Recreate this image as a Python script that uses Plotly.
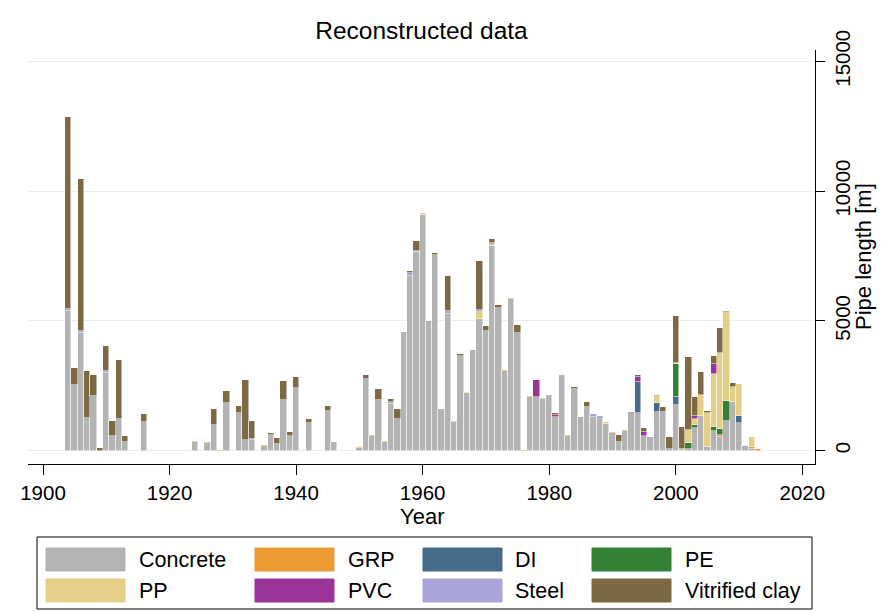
import plotly.graph_objects as go

# Installation year of each reconstructed pipe cohort
years = [1904, 1905, 1906, 1907, 1908, 1909, 1910, 1911, 1912, 1913,
         1916, 1924, 1926, 1927, 1928, 1929, 1931, 1932, 1933, 1935,
         1936, 1937, 1938, 1939, 1940, 1942, 1945, 1946, 1950, 1951,
         1952, 1953, 1954, 1955, 1956, 1957, 1958, 1959, 1960, 1961,
         1962, 1963, 1964, 1965, 1966, 1967, 1968, 1969, 1970, 1971,
         1972, 1973, 1974, 1975, 1976, 1977, 1978, 1979, 1980, 1981,
         1982, 1983, 1984, 1985, 1986, 1987, 1988, 1989, 1990, 1991,
         1992, 1993, 1994, 1995, 1996, 1997, 1998, 1999, 2000, 2001,
         2002, 2003, 2004, 2005, 2006, 2007, 2008, 2009, 2010, 2011,
         2012, 2013]

# Pipe length [m] per material and year
concrete = [5370, 2530, 4520, 1270, 2120, 0, 3000, 580, 1220, 350,
            1120, 350, 310, 990, 0, 1825, 1440, 400, 410, 180,
            615, 270, 1965, 580, 2415, 1080, 1530, 320, 95, 2750,
            580, 1965, 325, 1810, 1210, 4520, 6740, 7665, 9080, 4985,
            7540, 1570, 5255, 1120, 3660, 2225, 3840, 5075, 4560, 7895,
            5500, 3070, 5830, 4520, 0, 2080, 2060, 1990, 2120, 1310,
            2880, 580, 2365, 1290, 1695, 1290, 1310, 1015, 680, 325,
            770, 1440, 1440, 580, 490, 1500, 1500, 75, 1760, 0,
            75, 885, 1325, 155, 755, 540, 1155, 1875, 1055, 195,
            65, 0]
grp = [0, 0, 0, 0, 0, 0, 0, 0, 0, 0,
       0, 25, 30, 0, 40, 0, 0, 0, 0, 40,
       0, 0, 0, 0, 0, 0, 0, 30, 40, 0,
       40, 0, 50, 0, 0, 0, 0, 0, 0, 0,
       0, 0, 0, 0, 0, 0, 0, 0, 0, 0,
       0, 40, 40, 0, 40, 40, 25, 40, 0, 0,
       0, 25, 0, 0, 0, 0, 0, 0, 50, 0,
       25, 0, 0, 0, 0, 0, 0, 0, 0, 0,
       0, 0, 0, 0, 0, 50, 0, 0, 0, 0,
       75, 65]
di = [0, 0, 0, 0, 0, 0, 0, 0, 0, 0,
      0, 0, 0, 0, 0, 0, 0, 0, 0, 0,
      0, 0, 0, 0, 0, 0, 0, 0, 0, 0,
      0, 0, 0, 0, 0, 0, 0, 0, 0, 0,
      0, 0, 0, 0, 0, 0, 0, 0, 0, 0,
      0, 0, 0, 0, 0, 0, 0, 0, 0, 0,
      0, 0, 0, 0, 0, 0, 40, 0, 0, 0,
      0, 0, 1220, 0, 0, 345, 0, 0, 320, 0,
      0, 0, 0, 0, 0, 0, 0, 0, 280, 0,
      0, 0]
pe = [0, 0, 0, 0, 0, 0, 0, 0, 0, 0,
      0, 0, 0, 0, 0, 0, 0, 0, 0, 0,
      0, 0, 0, 0, 0, 0, 0, 0, 0, 0,
      0, 0, 0, 0, 0, 0, 0, 0, 0, 0,
      0, 0, 0, 0, 0, 0, 0, 0, 60, 0,
      0, 0, 0, 0, 0, 0, 0, 0, 0, 0,
      0, 0, 0, 0, 0, 0, 0, 0, 0, 0,
      0, 0, 0, 0, 0, 0, 0, 0, 1245, 0,
      210, 105, 0, 0, 170, 230, 770, 0, 0, 0,
      0, 0]
pp = [0, 0, 0, 0, 0, 0, 0, 0, 0, 0,
      0, 0, 0, 0, 0, 0, 0, 0, 0, 0,
      0, 0, 0, 0, 0, 0, 0, 0, 0, 0,
      0, 0, 0, 0, 0, 0, 0, 0, 65, 0,
      0, 0, 0, 0, 0, 40, 0, 255, 0, 50,
      0, 0, 0, 0, 0, 0, 0, 0, 0, 0,
      0, 0, 0, 0, 0, 0, 0, 80, 0, 0,
      0, 0, 0, 0, 0, 260, 0, 0, 65, 65,
      510, 245, 820, 1310, 2030, 2955, 3405, 565, 1225, 25,
      400, 0]
pvc = [0, 0, 0, 0, 0, 0, 0, 0, 0, 0,
       0, 0, 0, 0, 0, 0, 0, 0, 0, 0,
       0, 0, 0, 0, 0, 0, 0, 0, 0, 0,
       0, 0, 0, 0, 0, 0, 0, 0, 0, 0,
       0, 0, 0, 0, 0, 0, 0, 0, 0, 65,
       0, 0, 0, 0, 0, 0, 640, 0, 0, 65,
       0, 0, 0, 25, 0, 0, 0, 0, 0, 0,
       0, 40, 165, 140, 50, 0, 0, 0, 0, 0,
       0, 100, 0, 0, 385, 0, 0, 0, 0, 0,
       0, 0]
steel = [90, 0, 90, 0, 0, 0, 80, 0, 0, 0,
         0, 0, 0, 0, 0, 0, 0, 0, 30, 0,
         0, 0, 0, 0, 0, 0, 0, 0, 0, 0,
         0, 0, 0, 75, 0, 0, 100, 40, 0, 0,
         0, 0, 115, 35, 0, 0, 0, 100, 0, 0,
         0, 0, 0, 0, 0, 0, 0, 0, 0, 0,
         0, 0, 0, 0, 0, 115, 0, 0, 0, 0,
         0, 0, 0, 0, 0, 0, 0, 0, 0, 0,
         0, 0, 0, 0, 0, 0, 0, 0, 0, 0,
         0, 0]
vitrified_clay = [7380, 640, 5840, 1800, 785, 120, 950, 550, 2260, 220,
                  300, 0, 0, 615, 0, 490, 295, 2310, 700, 0,
                  80, 220, 720, 140, 410, 130, 180, 0, 0, 165,
                  0, 400, 0, 110, 385, 40, 80, 370, 0, 25,
                  75, 40, 1360, 0, 50, 0, 50, 1875, 195, 130,
                  100, 0, 0, 310, 0, 0, 0, 0, 25, 65,
                  25, 0, 80, 0, 180, 0, 0, 25, 0, 295,
                  0, 0, 105, 140, 0, 25, 180, 450, 1795, 835,
                  2825, 720, 885, 65, 310, 950, 60, 155, 0, 0,
                  0, 0]

materials = ["Concrete", "GRP", "DI", "PE", "PP", "PVC", "Steel", "Vitrified clay"]
series = [concrete, grp, di, pe, pp, pvc, steel, vitrified_clay]
colors = ["#b3b3b3", "#ec9a34", "#466b8b", "#338033",
          "#e3cf87", "#993499", "#a9a5db", "#7d6a45"]

x_ticks = [1900, 1920, 1940, 1960, 1980, 2000, 2020]
y_ticks = [0, 5000, 10000, 15000]
y_tick_labels = ["0", "5000", "10000", "15000"]

FONT = "Liberation Sans, Arial, sans-serif"
W, H = 889, 612
ML, MR, MT, MB = 28, 74, 50, 148

fig = go.Figure()
for name, vals, col in zip(materials, series, colors):
    fig.add_trace(go.Bar(
        x=years, y=vals, name=name, width=1.0,
        marker=dict(color=col, line=dict(color="rgba(255,255,255,0.7)", width=0.7)),
        showlegend=False,
    ))

# helpers: page pixels -> paper coordinates of the plotting area
pw = W - ML - MR
ph = H - MT - MB


def px_x(p):
    return (p - ML) / pw


def px_y(p):
    return (H - MB - p) / ph


shapes = [dict(type="rect", xref="paper", yref="paper",
               x0=px_x(37), x1=px_x(812), y0=px_y(609), y1=px_y(537),
               line=dict(color="black", width=1), fillcolor="white", layer="below")]
annotations = []
col_swatch = [46, 255, 423, 592]
col_text = [137, 346, 513, 683]
row_top = [548, 579]
for i, (name, col) in enumerate(zip(materials, colors)):
    r, c = divmod(i, 4)
    y0 = row_top[r]
    shapes.append(dict(type="rect", xref="paper", yref="paper",
                       x0=px_x(col_swatch[c]), x1=px_x(col_swatch[c] + 79),
                       y0=px_y(y0 + 23), y1=px_y(y0),
                       line=dict(color=col, width=1), fillcolor=col))
    annotations.append(dict(text=name, xref="paper", yref="paper",
                            x=px_x(col_text[c]), y=px_y(y0 + 11.5),
                            xanchor="left", yanchor="middle", showarrow=False,
                            font=dict(family=FONT, size=21.5, color="black")))

# axis titles
annotations.append(dict(text="Pipe length [m]", xref="paper", yref="paper",
                        x=px_x(863), y=0.5, xanchor="center", yanchor="middle",
                        textangle=-90, showarrow=False,
                        font=dict(family=FONT, size=22, color="black")))
annotations.append(dict(text="Year", xref="paper", yref="paper",
                        x=0.5, y=px_y(516), xanchor="center", yanchor="middle",
                        showarrow=False,
                        font=dict(family=FONT, size=22, color="black")))

fig.update_layout(
    width=W, height=H,
    margin=dict(l=ML, r=MR, t=MT, b=MB, pad=0),
    paper_bgcolor="white", plot_bgcolor="white",
    barmode="stack", bargap=0,
    font=dict(family=FONT, color="black"),
    title=dict(text="Reconstructed data", x=0.5, xref="paper", xanchor="center",
               y=1 - 30 / H, yanchor="middle",
               font=dict(family=FONT, size=24.5, color="black")),
    xaxis=dict(range=[1897.63, 2022.0], tickvals=x_ticks,
               ticks="outside", ticklen=10, tickwidth=1.3, tickcolor="black",
               showline=True, linecolor="black", linewidth=1.3,
               showgrid=False, zeroline=False,
               tickfont=dict(family=FONT, size=20.5)),
    yaxis=dict(side="right", range=[-512, 15435], tickvals=y_ticks,
               ticktext=y_tick_labels,
               tickangle=-90, ticks="outside", ticklen=9, tickwidth=1.3,
               tickcolor="black", showline=True, linecolor="black", linewidth=1.3,
               showgrid=True, gridcolor="#e6eef0", gridwidth=1.3, zeroline=False,
               tickfont=dict(family=FONT, size=20.5)),
    shapes=shapes,
    annotations=annotations,
)

fig.write_html("out.html")
